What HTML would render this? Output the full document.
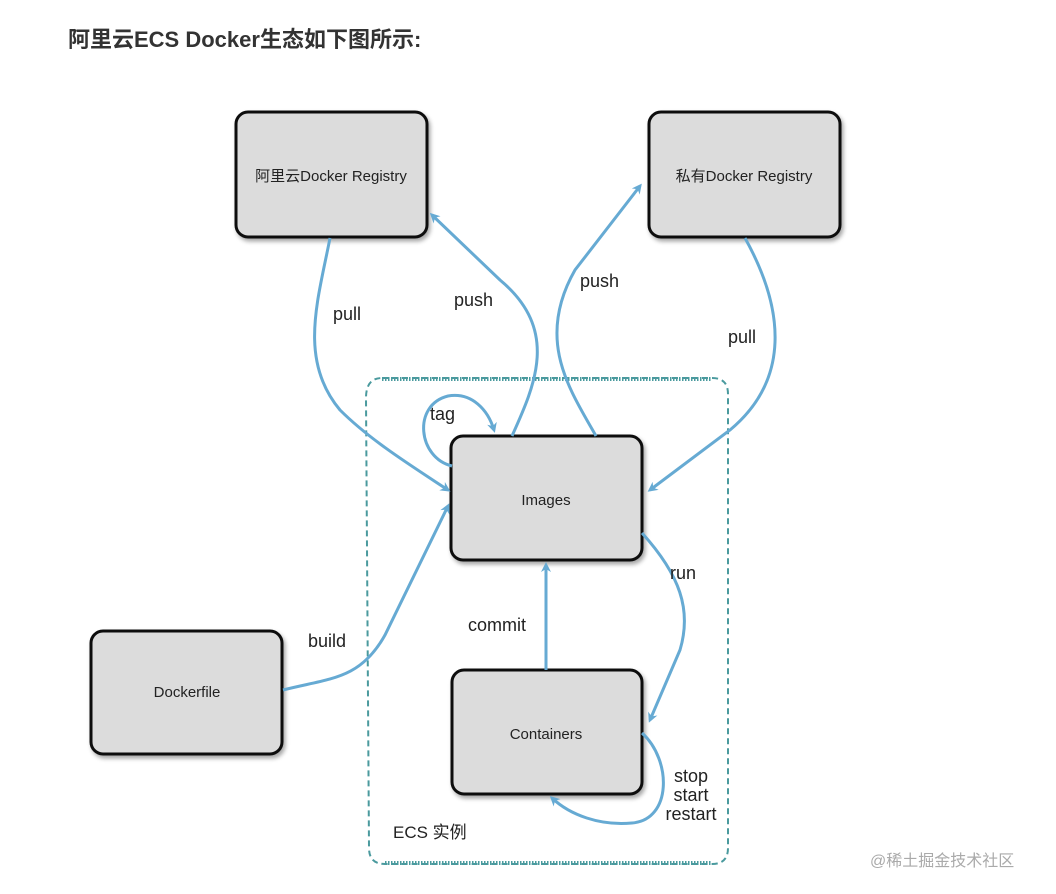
<!DOCTYPE html>
<html><head><meta charset="utf-8"><style>
html,body{margin:0;padding:0;background:#fff;width:1056px;height:894px;overflow:hidden}
text{font-family:"Liberation Sans","Noto Sans CJK SC",sans-serif}
</style></head><body>
<svg width="1056" height="894" viewBox="0 0 1056 894" xmlns="http://www.w3.org/2000/svg">
<defs>
<marker id="a" markerWidth="10" markerHeight="10" refX="7" refY="5" orient="auto" markerUnits="userSpaceOnUse" viewBox="0 0 10 10">
<path d="M0,0 L10,5 L0,10 L3,5 Z" fill="#66aad3"/>
</marker>
<filter id="sh" x="-10%" y="-10%" width="130%" height="130%"><feDropShadow dx="2" dy="3" stdDeviation="2" flood-color="#000" flood-opacity="0.35"/></filter>
</defs>
<text x="68" y="47" font-size="22" font-weight="bold" fill="#333">阿里云ECS Docker生态如下图所示:</text>

<!-- ECS region -->
<path d="M382,378 L712,378 Q728,378 728,394 L728,848 Q728,864 712,864 L385,864 Q369,864 369,848 L366,398 Q366,378 382,378 Z" fill="none" stroke="#4a9a9e" stroke-width="2" stroke-dasharray="6,4"/>
<path d="M382,379 L712,379" stroke="#4a9a9e" stroke-width="4" stroke-dasharray="1.5,1.5"/>
<path d="M385,863 L712,863" stroke="#4a9a9e" stroke-width="4" stroke-dasharray="1.5,1.5"/>

<!-- boxes -->
<g fill="#dcdcdc" stroke="#111" stroke-width="3" filter="url(#sh)">
<rect x="236" y="112" width="191" height="125" rx="12"/>
<rect x="649" y="112" width="191" height="125" rx="12"/>
<rect x="451" y="436" width="191" height="124" rx="12"/>
<rect x="91" y="631" width="191" height="123" rx="12"/>
<rect x="452" y="670" width="190" height="124" rx="12"/>
</g>
<g font-size="15" fill="#222" text-anchor="middle">
<text x="331" y="181">阿里云Docker Registry</text>
<text x="744" y="181">私有Docker Registry</text>
<text x="546" y="505">Images</text>
<text x="187" y="697">Dockerfile</text>
<text x="546" y="739">Containers</text>
</g>

<!-- connectors -->
<g fill="none" stroke="#66aad3" stroke-width="3" marker-end="url(#a)">
<path d="M330,238 C318,300 298,360 340,410 C370,440 410,465 448,490"/>
<path d="M512,436 C535,385 560,330 500,280 L432,215"/>
<path d="M596,436 C570,390 535,340 575,270 L640,186"/>
<path d="M745,238 C785,310 790,380 730,430 L650,490"/>
<path d="M452,466 C418,458 412,405 448,396 C472,392 488,410 494,430"/>
<path d="M283,690 C330,678 360,680 385,635 L448,506"/>
<path d="M546,670 L546,565"/>
<path d="M642,533 C680,575 692,610 680,650 L650,720"/>
<path d="M642,733 C672,760 672,820 632,823 C600,826 570,815 552,798"/>
</g>

<g font-size="18" fill="#222">
<text x="333" y="320">pull</text>
<text x="454" y="306">push</text>
<text x="580" y="287">push</text>
<text x="728" y="343">pull</text>
<text x="430" y="420">tag</text>
<text x="308" y="647">build</text>
<text x="468" y="631">commit</text>
<text x="670" y="579">run</text>
<text x="691" y="782" text-anchor="middle">stop</text>
<text x="691" y="801" text-anchor="middle">start</text>
<text x="691" y="820" text-anchor="middle">restart</text>
<text x="393" y="838" font-size="17">ECS 实例</text>
</g>
<text x="870" y="866" font-size="16" fill="#aaa">@稀土掘金技术社区</text>
</svg>
</body></html>
